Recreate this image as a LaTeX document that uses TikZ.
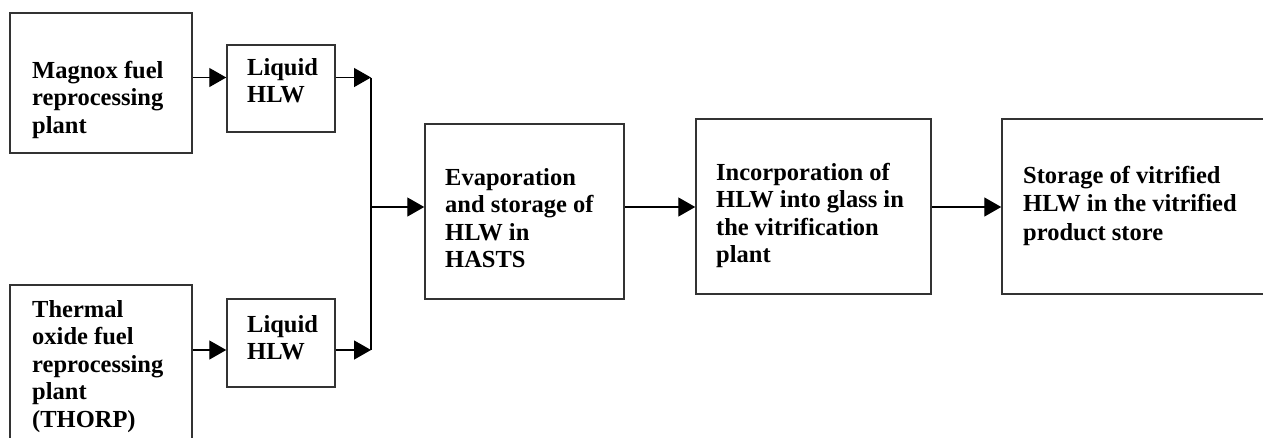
\documentclass[tikz,border=0pt]{standalone}
\usepackage{fontspec}
\setmainfont{Liberation Serif}
\usepackage{tikz}
\usetikzlibrary{arrows.meta}

\begin{document}
\begin{tikzpicture}[x=1pt, y=-1pt,
                          box/.style={draw=black!80, line width=1.5pt, inner sep=0pt},
                          txt/.style={anchor=north west, align=left, inner sep=0pt,
                          font=\fontsize{24.5}{27.5}\selectfont\bfseries},
                          arr/.style={line width=1.4pt, -{Triangle[length=17pt, width=19pt]}}]
                          \useasboundingbox (0,0) rectangle (1263,437);
                          \clip (0,0) rectangle (1263,437);
                          \foreach \n/\cx/\cy/\w/\h in {magnox/101/83/182/140,
                          liqa/281/88.5/108/87, thermal/101/377.5/182/185,
                          liqb/281/343/108/88, hasts/524.5/211.5/199/175,
                          vitrif/813.5/206.5/235/175, store/1146/206.5/288/175}
                          \node[box, minimum width=\w, minimum height=\h] (\n) at (\cx,\cy) {};
                          \node[txt] (magnox-t) at (32,61) {Magnox fuel\\reprocessing\\plant};
                          \node[txt] (liqa-t) at (247,58) {Liquid\\HLW};
                          \node[txt] (thermal-t) at (32,300) {Thermal\\oxide fuel\\reprocessing\\plant\\(THORP)};
                          \node[txt] (liqb-t) at (247,315) {Liquid\\HLW};
                          \node[txt] (hasts-t) at (445,168) {Evaporation\\and storage of\\HLW in\\HASTS};
                          \node[txt] (vitrif-t) at (716,163) {Incorporation of\\HLW into glass in\\the vitrification\\plant};
                          \node[txt, font=\fontsize{24.5}{28.5}\selectfont\bfseries] (store-t) at (1023,166)
                          {Storage of vitrified\\HLW in the vitrified\\product store};
                          \coordinate (top) at (371,77.5);
                          \coordinate (bot) at (371,350);
                          \coordinate (mid) at (371,207);
                          \draw[arr] (magnox.east |- top) -- (liqa.west |- top);
                          \draw[arr] (liqa.east |- top) -- (top);
                          \draw[arr] (thermal.east |- bot) -- (liqb.west |- bot);
                          \draw[arr] (liqb.east |- bot) -- (bot);
                          \draw[line width=1.4pt] (top) -- (bot);
                          \draw[arr] (mid) -- (hasts.west |- mid);
                          \draw[arr] (hasts.east |- mid) -- (vitrif.west |- mid);
                          \draw[arr] (vitrif.east |- mid) -- (store.west |- mid);
                      \end{tikzpicture}
\end{document}
